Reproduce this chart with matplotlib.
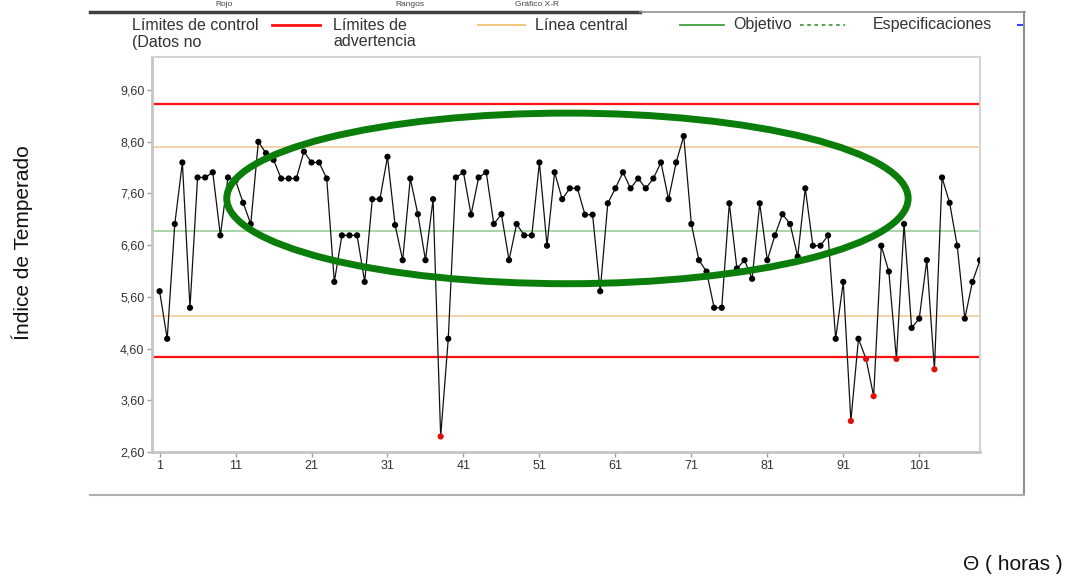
import numpy as np
import matplotlib.pyplot as plt
from matplotlib.patches import Ellipse
from matplotlib.lines import Line2D

plt.rcParams['font.family'] = ['Liberation Sans', 'DejaVu Sans']

# índice de temperado por hora
horas = np.arange(1, 110)
indice = [
    5.71, 4.79, 7.01, 8.20, 5.39, 7.91, 7.91, 8.01, 6.79, 7.91,
    7.85, 7.42, 7.01, 8.60, 8.38, 8.25, 7.89, 7.89, 7.89, 8.41,
    8.20, 8.20, 7.89, 5.89, 6.79, 6.79, 6.79, 5.89, 7.49, 7.49,
    8.31, 6.99, 6.31, 7.89, 7.20, 6.31, 7.49, 2.90, 4.79, 7.91,
    8.01, 7.19, 7.91, 8.01, 7.01, 7.20, 6.31, 7.01, 6.79, 6.79,
    8.20, 6.59, 8.01, 7.49, 7.70, 7.70, 7.19, 7.19, 5.71, 7.41,
    7.70, 8.01, 7.70, 7.89, 7.70, 7.89, 8.20, 7.49, 8.20, 8.71,
    7.01, 6.31, 6.09, 5.39, 5.39, 7.41, 6.15, 6.31, 5.95, 7.41,
    6.31, 6.79, 7.20, 7.01, 6.38, 7.70, 6.59, 6.59, 6.79, 4.79,
    5.89, 3.20, 4.79, 4.40, 3.68, 6.59, 6.09, 4.40, 7.01, 5.00,
    5.18, 6.31, 4.20, 7.91, 7.42, 6.59, 5.18, 5.89, 6.31,
]

# límites del gráfico
lim_control = [4.43, 9.33]
lim_advertencia = [5.23, 8.50]
linea_central = 6.88

yticks = [2.60, 3.60, 4.60, 5.60, 6.60, 7.60, 8.60, 9.60]
xticks = list(range(1, 102, 10))

W, H = 1067, 577
def fx(px):
    return px / W
def fy(py):
    return 1 - py / H

fig = plt.figure(figsize=(W / 100, H / 100), dpi=100)
ax = fig.add_axes([fx(152), fy(452), fx(980) - fx(152), fy(57) - fy(452)])

for v in lim_control:
    ax.axhline(v, color='#ff1010', lw=1.6, zorder=1)
for v in lim_advertencia:
    ax.axhline(v, color='#f0c890', lw=1.1, zorder=1)
ax.axhline(linea_central, color='#90cc90', lw=1.1, zorder=1)

ax.plot(horas, indice, color='#111111', lw=0.9, zorder=3)
colores = ['#e01010' if v < lim_control[0] else '#000000' for v in indice]
ax.scatter(horas, indice, c=colores, s=20, zorder=4, linewidths=0)

ax.set_xlim(0, 109)
ax.set_ylim(2.60, 10.24)
ax.set_yticks(yticks)
ax.set_yticklabels([f'{v:.2f}'.replace('.', ',') for v in yticks])
ax.set_xticks(xticks)
ax.set_xticklabels([str(v) for v in xticks])
ax.tick_params(length=3.5, width=1, color='#a0a0a0', labelsize=9,
               labelcolor='#333333', pad=2)
for lado in ['left', 'bottom']:
    ax.spines[lado].set_color('#c4c4c4')
    ax.spines[lado].set_linewidth(2)
for lado in ['top', 'right']:
    ax.spines[lado].set_color('#d4d4d4')
    ax.spines[lado].set_linewidth(1.5)

# elipse verde marcando la zona estable
ax.add_patch(Ellipse((54.69, 7.505), 89.7, 3.30, fill=False,
                     ec='#0b7d0b', lw=5, zorder=6, clip_on=False))

# leyenda superior
fuente_ley = dict(fontsize=11.5, color='#333333', va='center',
                  family=['Liberation Sans Narrow', 'Liberation Sans', 'DejaVu Sans'])
fig.text(fx(132), fy(25), 'Límites de control', **fuente_ley)
fig.text(fx(132), fy(42), '(Datos no', **fuente_ley)
fig.text(fx(333), fy(25), 'Límites de', **fuente_ley)
fig.text(fx(333), fy(42), 'advertencia', **fuente_ley)
fig.text(fx(535), fy(25), 'Línea central', **fuente_ley)
fig.text(fx(733), fy(25), 'Objetivo', **fuente_ley)
fig.text(fx(873), fy(25), 'Especificaciones', **fuente_ley)

muestras = [
    (272, 320, '#ff1010', '-', 2.0),
    (478, 525, '#f0c070', '-', 1.3),
    (680, 724, '#40a040', '-', 1.3),
    (800, 845, '#40a040', (0, (2, 2)), 1.3),
    (1018, 1024, '#4040ff', '-', 1.5),
]
for x0, x1, c, ls, lw in muestras:
    fig.add_artist(Line2D([fx(x0), fx(x1)], [fy(25), fy(25)], color=c,
                          ls=ls, lw=lw, transform=fig.transFigure))

# marco exterior
fig.add_artist(Line2D([fx(90), fx(640)], [fy(12), fy(12)], color='#404040',
                      lw=2.5, transform=fig.transFigure))
fig.add_artist(Line2D([fx(640), fx(1025)], [fy(12), fy(12)], color='#909090',
                      lw=1.2, transform=fig.transFigure))
fig.add_artist(Line2D([fx(1024), fx(1024)], [fy(12), fy(495)], color='#909090',
                      lw=1.5, transform=fig.transFigure))
fig.add_artist(Line2D([fx(90), fx(1024)], [fy(495), fy(495)], color='#b0b0b0',
                      lw=1.5, transform=fig.transFigure))

# encabezado pequeño sobre el marco
for px, t in [(215, 'Rojo'), (395, 'Rangos'), (515, 'Gráfico X-R')]:
    fig.text(fx(px), fy(1), t, fontsize=6, color='#444444', va='top')

fig.text(fx(22), fy(243), 'Índice de Temperado', rotation=90, fontsize=15,
         color='#111111', ha='center', va='center')
fig.text(fx(1063), fy(565), 'Θ ( horas )', fontsize=15, color='#111111',
         ha='right', va='center')

fig.savefig('out.png', dpi=100)
